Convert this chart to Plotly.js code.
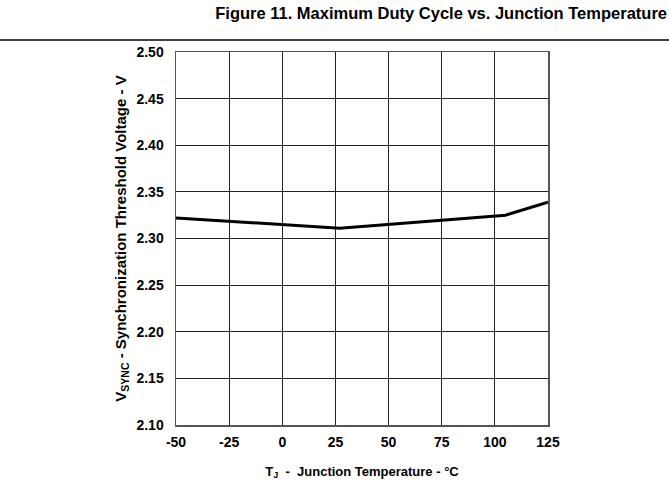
<!DOCTYPE html>
<html>
<head>
<meta charset="utf-8">
<script src="https://cdn.plot.ly/plotly-3.0.1.min.js"></script>
<style>html,body{margin:0;padding:0;background:#fff;}</style>
</head>
<body>
<div id="chart" style="width:669px;height:492px;"></div>
<script>
const temperatureC = [-50, -35, 27, 105, 125];
const vsyncVolts = [2.322, 2.320, 2.311, 2.325, 2.339];
const xTicks = [-50, -25, 0, 25, 50, 75, 100, 125];
const yTicks = [2.10, 2.15, 2.20, 2.25, 2.30, 2.35, 2.40, 2.45, 2.50];
const yTickLabels = ['2.10', '2.15', '2.20', '2.25', '2.30', '2.35', '2.40', '2.45', '2.50'];

const FONT = 'Liberation Sans, Arial, sans-serif';
const L = 176, R = 548, T = 52, B = 425, W = 669, H = 492;
const pw = R - L, ph = B - T;

const trace = {
  x: temperatureC, y: vsyncVolts, type: 'scatter', mode: 'lines',
  line: {color: '#000', width: 3}, hoverinfo: 'skip'
};

const layout = {
  width: W, height: H,
  margin: {l: L, r: W - R, t: T, b: H - B},
  paper_bgcolor: '#fff', plot_bgcolor: '#fff',
  showlegend: false,
  font: {family: FONT, color: '#000'},
  title: {
    text: '<b>Figure 11. Maximum Duty Cycle vs. Junction Temperature</b>',
    font: {family: FONT, size: 16.5, color: '#000'},
    xref: 'container', x: 0.997, xanchor: 'right',
    yref: 'container', y: 0.973, yanchor: 'middle'
  },
  xaxis: {
    range: [-50, 125], tickvals: xTicks, ticktext: xTicks.map(v => '<b>' + v + '</b>'),
    tickfont: {family: FONT, size: 14, color: '#000'},
    showgrid: true, gridcolor: '#222', gridwidth: 1,
    zeroline: false, showline: true, linecolor: '#555', linewidth: 1.5, mirror: true,
    ticks: '', ticklabelstandoff: 4,
    title: {text: '<b>T<sub>J</sub>  -  Junction Temperature - °C</b>', font: {family: FONT, size: 13, color: '#000'}, standoff: 17}
  },
  yaxis: {
    range: [2.10, 2.50], tickvals: yTicks, ticktext: yTickLabels.map(v => '<b>' + v + '</b>'),
    tickfont: {family: FONT, size: 14, color: '#000'},
    showgrid: true, gridcolor: '#222', gridwidth: 1,
    zeroline: false, showline: true, linecolor: '#555', linewidth: 1.5, mirror: true,
    ticks: '', ticklabelstandoff: 8,
    title: {text: '<b>V<sub>SYNC</sub> - Synchronization Threshold Voltage - V</b>', font: {family: FONT, size: 15, color: '#000'}, standoff: 6}
  },
  shapes: [{
    type: 'line', xref: 'paper', yref: 'paper',
    x0: -L / pw, x1: (W - L) / pw,
    y0: (B - 40) / ph, y1: (B - 40) / ph,
    line: {color: '#000', width: 1.5}
  }]
};

Plotly.newPlot('chart', [trace], layout, {displayModeBar: false, staticPlot: true});
</script>
</body>
</html>
